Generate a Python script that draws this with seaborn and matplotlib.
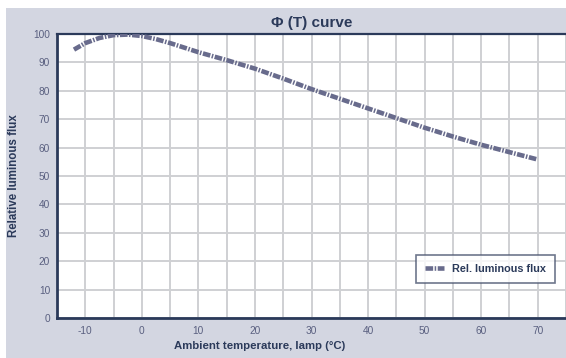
import numpy as np
import pandas as pd
import seaborn as sns
import matplotlib
matplotlib.use("Agg")
import matplotlib.pyplot as plt
from matplotlib.patches import Rectangle
from matplotlib.lines import Line2D

# Relative luminous flux versus ambient lamp temperature
temperature = [-12, -10, -7.5, -5, -2.5, 0, 2.5, 5, 7.5, 10, 15, 20, 25, 30, 35, 40, 45, 50, 55, 60, 65, 70]
rel_flux = [94.5, 96.8, 98.6, 99.6, 99.8, 99.3, 98.2, 96.8, 95.2, 93.6, 90.8, 87.8, 84.3, 80.6, 77.2, 73.8, 70.4, 67.0, 63.9, 61.0, 58.4, 55.8]

x_ticks = [-10, 0, 10, 20, 30, 40, 50, 60, 70]
y_ticks = [0, 10, 20, 30, 40, 50, 60, 70, 80, 90, 100]

df = pd.DataFrame({"T": temperature, "flux": rel_flux})

sns.set_theme(style="white")
plt.rcParams["font.family"] = ["Liberation Sans", "DejaVu Sans"]
plt.rcParams["axes.unicode_minus"] = False
plt.rcParams["lines.scale_dashes"] = False

W, H = 566, 358
fig = plt.figure(figsize=(W / 100, H / 100), dpi=100)
fig.patch.set_facecolor("white")
fig.patches.append(Rectangle((6 / W, 0), 1 - 6 / W, 1 - 8 / H, transform=fig.transFigure,
                             facecolor="#d3d6e1", edgecolor="none", zorder=-10))

left, right, top, bottom = 57, 566, 34, 318
ax = fig.add_axes([left / W, (H - bottom) / H, (right - left) / W, (bottom - top) / H])
ax.set_facecolor("white")

navy = "#2b3a5a"
line_col = "#686b8c"
dashes = (5.5, 1.1, 1.1, 1.1)
lw = 3.3

sns.lineplot(data=df, x="T", y="flux", ax=ax, color=line_col, linewidth=lw,
             linestyle="-", legend=False, zorder=3)
ax.lines[0].set_dashes(dashes)
ax.lines[0].set_dash_capstyle("butt")

ax.set_xlim(-15, 75)
ax.set_ylim(0, 100)
ax.set_xticks(x_ticks)
ax.set_yticks(y_ticks)
ax.set_xticks(np.arange(-15, 76, 5), minor=True)
ax.grid(True, which="both", color="#cfd0d3", linewidth=1.4, zorder=0)
ax.set_axisbelow(True)

for side in ["left", "bottom", "top"]:
    ax.spines[side].set_color(navy)
    ax.spines[side].set_linewidth(2.0)
ax.spines["right"].set_visible(False)
ax.spines["top"].set_linewidth(1.6)

ax.tick_params(axis="both", which="both", length=0, labelsize=7.3, labelcolor="#5a6080")
ax.tick_params(axis="x", pad=6)
ax.tick_params(axis="y", pad=5)

ax.set_title("Φ (T) curve", fontsize=11, fontweight="bold", color=navy, pad=5)
ax.set_xlabel("Ambient temperature, lamp (°C)", fontsize=8.2, fontweight="bold", color=navy)
ax.set_ylabel("Relative luminous flux", fontsize=8.3, fontweight="bold", color=navy)
ax.xaxis.set_label_coords((260 - left) / (right - left), -(341 - bottom) / (bottom - top))
ax.yaxis.set_label_coords(-(left - 20) / (right - left), 0.5)

handle = Line2D([0], [0], color=line_col, linewidth=lw, dashes=dashes, dash_capstyle="butt")
leg = ax.legend([handle], ["Rel. luminous flux"], loc="lower right",
                bbox_to_anchor=((555 - left) / (right - left), (bottom - 283) / (bottom - top)),
                frameon=True, fancybox=False, fontsize=7.8, handlelength=1.8,
                borderpad=0.85, handletextpad=0.7, borderaxespad=0)
leg.get_frame().set_edgecolor("#4a5570")
leg.get_frame().set_linewidth(1.2)
leg.get_frame().set_facecolor("white")
for t in leg.get_texts():
    t.set_fontweight("bold")
    t.set_color(navy)

fig.savefig("out.png", dpi=100)
